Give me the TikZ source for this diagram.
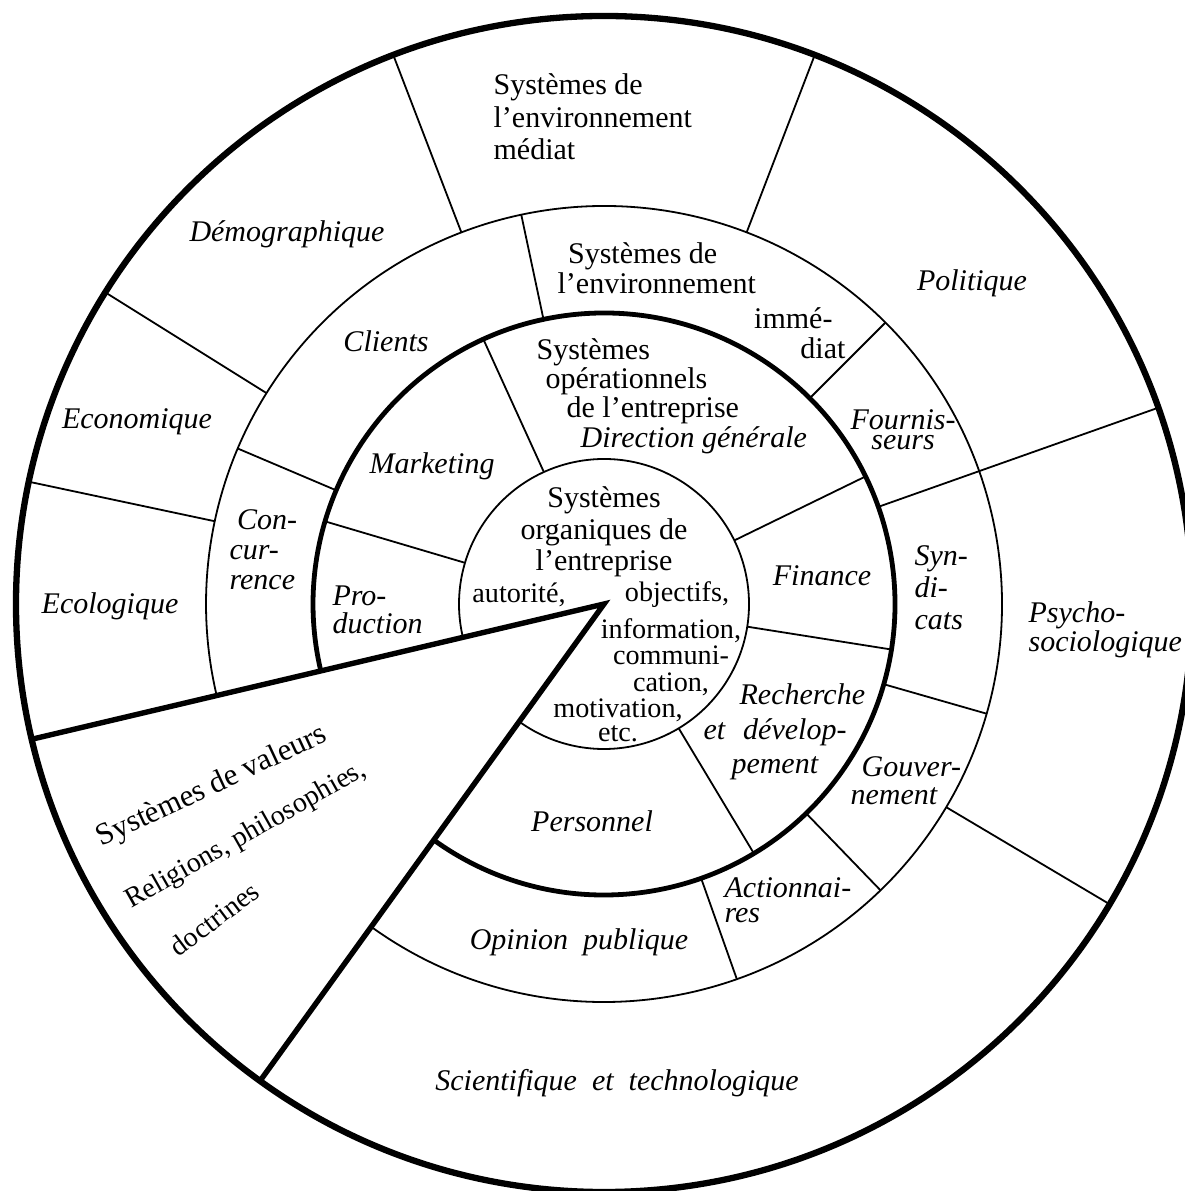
\documentclass[tikz,border=0pt]{standalone}
\usepackage{fontspec}
\setmainfont{Liberation Serif}

\begin{document}
\begin{tikzpicture}[
    x=0.3333pt, y=0.3333pt,
    rim/.style={line width=2.1pt},
    ring/.style={line width=1.6pt},
    cut/.style={line width=1.8pt, line join=miter},
    divider/.style={line width=0.6pt},
    txt/.style={inner sep=0pt, align=center, font=\fontsize{10}{#1}\selectfont},
    txt/.default=10.8,
    itxt/.style={inner sep=0pt, align=center, font=\fontsize{10}{#1}\selectfont\itshape},
    itxt/.default=10.8,
    smalltxt/.style={inner sep=0pt, align=center, font=\fontsize{9.4}{#1}\selectfont},
    smalltxt/.default=9
  ]
  \useasboundingbox (-604,-587) rectangle (580,604);

  % rings, open where the wedge cuts through
  \draw[rim] (0,0) circle[radius=588];
  \foreach \rr/\w in {145/divider, 291/ring, 398/divider}
    \draw[\w] (234.2:\rr) arc[start angle=234.2, end angle=553.3, radius=\rr];

  % wedge of the value systems
  \coordinate (apex) at (0,0);
  \draw[cut] (193.3:588) -- (apex) -- (234.2:588);

  % radial dividers: angle / inner radius / outer radius
  \foreach \a/\rin/\rout in {114.5/145/291, 163.5/145/291, 26/145/291, -9/145/291, -59/145/291,
      102/291/398, 157/291/398, 45/291/398, -16/291/398, -46/291/398, -70.5/291/398,
      19.5/291/588,
      111/398/588, 148/398/588, 168/398/588, 69/398/588, -30.7/398/588}
    \draw[divider] (\a:\rin) -- (\a:\rout);

  % outer ring
  \node[txt, align=left, anchor=west] (envmed) at (-111,487) {Systèmes de\\l'environnement\\médiat};
  \node[itxt] (demo) at (-317,370) {Démographique};
  \node[itxt] (eco) at (-467,182) {Economique};
  \node[itxt] (ecolo) at (-494,-2) {Ecologique};
  \node[itxt] (poli) at (368,321) {Politique};
  \node[itxt=9.7, align=left, anchor=west] (psycho) at (424,-26) {Psycho-\\sociologique};
  \node[itxt] (scitech) at (13,-479) {Scientifique\enspace et\enspace technologique};

  % middle ring
  \node[txt=10, align=left, anchor=west] (envimm) at (-47,336) {\hspace*{3.5pt}Systèmes de\\l'environnement};
  \node[txt=10, align=right, anchor=east] (immed) at (242,271) {immé-\hspace*{4.3pt}\\diat};
  \node[itxt] (clients) at (-218,263) {Clients};
  \node[itxt=10, align=left, anchor=west] (concur) at (-375,54) {\hspace*{2.5pt}Con-\\cur-\\rence};
  \node[itxt=6.8] (fourn) at (299,174) {Fournis-\\seurs};
  \node[itxt=10.7, align=left, anchor=west] (syndic) at (310,16) {Syn-\\di-\\cats};
  \node[itxt=9.3, align=left, anchor=west] (gouv) at (246,-177) {\hspace*{3.7pt}Gouver-\\nement};
  \node[itxt=8.5, align=left, anchor=west] (action) at (120,-296) {Actionnai-\\res};
  \node[itxt] (opinion) at (-25,-338) {Opinion\enspace publique};

  % inner ring
  \node[txt=9.8, align=left, anchor=west] (opsys) at (-68,208)
    {Systèmes\\\hspace*{3pt}opérationnels\\\hspace*{10pt}de l'entreprise\\\hspace*{14.7pt}\textit{Direction générale}};
  \node[itxt] (market) at (-172,138) {Marketing};
  \node[itxt=9.3, align=left, anchor=west] (prod) at (-272,-6) {Pro-\\duction};
  \node[itxt] (finance) at (218,28) {Finance};
  \node[itxt=11.5, align=left, anchor=west] (rd) at (99,-128)
    {\hspace*{12pt}Recherche\\et\hspace{6pt}dévelop-\\\hspace*{9.3pt}pement};
  \node[itxt] (perso) at (-12,-217) {Personnel};

  % core
  \node[txt=10.5] (orgsys) at (0,72) {Systèmes\\organiques de\\l'entreprise};
  \node[smalltxt] (autor) at (-85,9) {autorité,};
  \node[smalltxt] (object) at (73,9) {objectifs,};
  \node[smalltxt=8.8] (info) at (67,-53) {information,\\communi-\\cation,};
  \node[smalltxt=8] (motiv) at (14,-116) {motivation,\\etc.};

  % inside the wedge
  \node[txt, font=\fontsize{10.3}{12}\selectfont, rotate=25] (valeurs) at (-392,-183) {Systèmes de valeurs};
  \node[smalltxt, rotate=29.5] (relig) at (-358,-232) {Religions, philosophies,};
  \node[smalltxt, rotate=37] (doctr) at (-390,-315) {doctrines};
\end{tikzpicture}
\end{document}
